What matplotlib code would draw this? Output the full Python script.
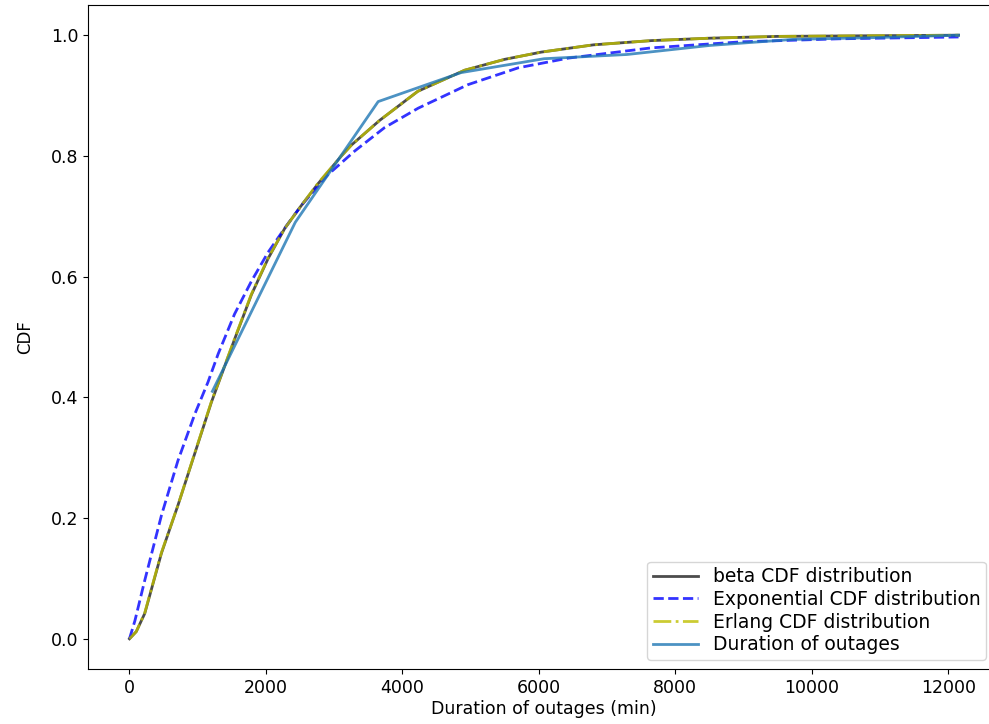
import matplotlib
matplotlib.use("Agg")
import matplotlib.pyplot as plt

# fitted beta CDF (Erlang fit is practically the same curve)
x_fit = [0, 100, 224, 469, 713, 957, 1201, 1543, 1787, 2032, 2276, 2520, 2764,
         3106, 3253, 3668, 4225, 4913, 5500, 6037, 6800, 7648, 8500, 9500, 10800, 12150]
beta_cdf = [0, 0.012, 0.042, 0.142, 0.222, 0.307, 0.392, 0.497, 0.570, 0.630, 0.680,
            0.718, 0.754, 0.800, 0.818, 0.859, 0.907, 0.942, 0.960, 0.972, 0.984,
            0.991, 0.995, 0.998, 0.999, 1.0]
erlang_cdf = [0, 0.012, 0.043, 0.143, 0.222, 0.308, 0.393, 0.498, 0.571, 0.631, 0.680,
              0.718, 0.755, 0.800, 0.818, 0.859, 0.907, 0.942, 0.960, 0.972, 0.984,
              0.991, 0.995, 0.998, 0.999, 1.0]

# fitted exponential CDF
x_exp = [0, 80, 220, 470, 710, 960, 1150, 1300, 1540, 1790, 2030, 2280, 2520, 2900,
         3300, 3740, 4230, 4960, 5700, 6430, 7650, 8970, 10400, 12150]
exp_cdf = [0, 0.03, 0.095, 0.205, 0.295, 0.373, 0.425, 0.472, 0.538, 0.593, 0.640,
           0.681, 0.718, 0.768, 0.808, 0.847, 0.879, 0.918, 0.946, 0.962, 0.979,
           0.989, 0.994, 0.997]

# empirical CDF of outage durations
x_emp = [1215, 2430, 3645, 4860, 6075, 7290, 8505, 9720, 10935, 12150]
emp_cdf = [0.41, 0.69, 0.89, 0.938, 0.961, 0.968, 0.983, 0.993, 0.996, 1.0]

fig = plt.figure(figsize=(9.89, 7.24), dpi=100)
ax = fig.add_axes([88 / 989, 55 / 724, 912 / 989, 664 / 724])

ax.plot(x_fit, beta_cdf, 'k-', lw=2, alpha=0.7, label='beta CDF distribution')
ax.plot(x_exp, exp_cdf, 'b--', lw=2, alpha=0.8, label='Exponential CDF distribution')
ax.plot(x_fit, erlang_cdf, 'y-.', lw=2, alpha=0.8, label='Erlang CDF distribution')
ax.plot(x_emp, emp_cdf, color='#1f77b4', lw=2, alpha=0.8, label='Duration of outages')

ax.set_xlabel('Duration of outages (min)', fontsize=12.5, labelpad=2)
ax.set_ylabel('CDF', fontsize=12, labelpad=12)
ax.tick_params(labelsize=12.5)
ax.legend(loc='lower right', bbox_to_anchor=(898 / 912, 9 / 664), borderaxespad=0,
          fontsize=13.5, labelspacing=0.2, handlelength=2.4, borderpad=0.3)

plt.savefig('out.png', dpi=100)
